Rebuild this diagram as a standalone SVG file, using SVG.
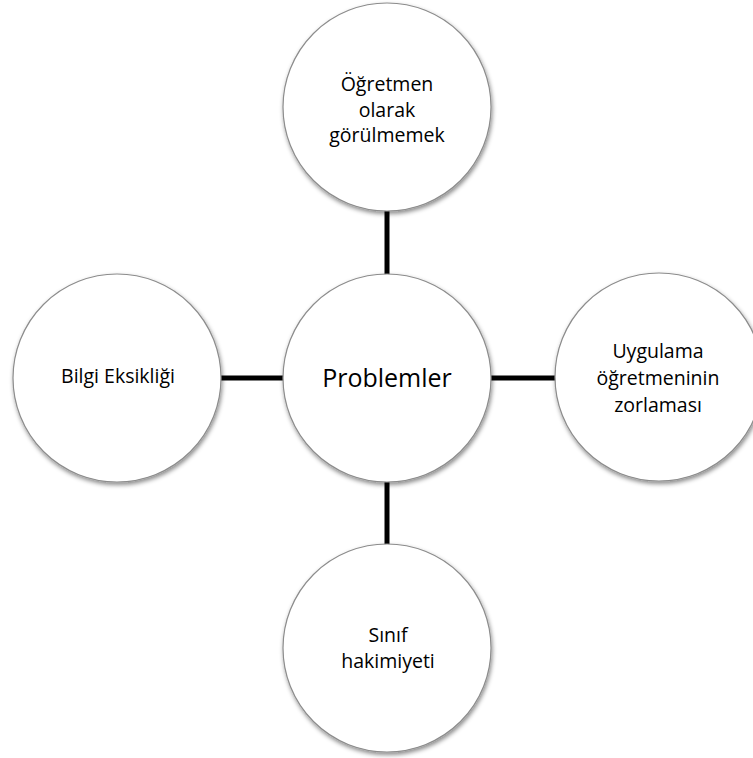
<svg xmlns="http://www.w3.org/2000/svg" width="753" height="758" viewBox="0 0 753 758">
  <defs>
    <filter id="sh" x="-10%" y="-10%" width="125%" height="125%">
      <feDropShadow dx="1" dy="2.5" stdDeviation="2" flood-color="#000" flood-opacity="0.45"/>
    </filter>
    <style>
      .node circle { fill: #ffffff; stroke: #8c8c8c; stroke-width: 1.2; filter: url(#sh); }
      .node text { font-family: "Open Sans", "Liberation Sans", sans-serif; font-size: 19.5px; fill: #000; text-anchor: middle; }
      .node text.big { font-size: 25px; }
      .conn line { stroke: #000; stroke-width: 5; }
    </style>
  </defs>
  <rect width="753" height="758" fill="#ffffff"/>
  <g id="connectors" class="conn">
    <line x1="387" y1="210" x2="387" y2="275"/>
    <line x1="221" y1="378" x2="284" y2="378"/>
    <line x1="491" y1="378" x2="556" y2="378"/>
    <line x1="387" y1="481" x2="387" y2="546"/>
  </g>
  <g id="node-center" class="node">
    <circle cx="387" cy="378" r="104"/>
    <text class="big" x="387" y="387">Problemler</text>
  </g>
  <g id="node-top" class="node">
    <circle cx="387" cy="107" r="104"/>
    <text x="387" y="91">Öğretmen</text>
    <text x="387" y="116.5">olarak</text>
    <text x="387" y="142">görülmemek</text>
  </g>
  <g id="node-left" class="node">
    <circle cx="117" cy="378" r="104"/>
    <text x="118" y="383">Bilgi Eksikliği</text>
  </g>
  <g id="node-right" class="node">
    <circle cx="659" cy="377" r="104"/>
    <text x="658" y="358">Uygulama</text>
    <text x="658" y="385">öğretmeninin</text>
    <text x="658" y="412">zorlaması</text>
  </g>
  <g id="node-bottom" class="node">
    <circle cx="387" cy="648" r="104"/>
    <text x="388" y="642">Sınıf</text>
    <text x="388" y="668">hakimiyeti</text>
  </g>
</svg>
